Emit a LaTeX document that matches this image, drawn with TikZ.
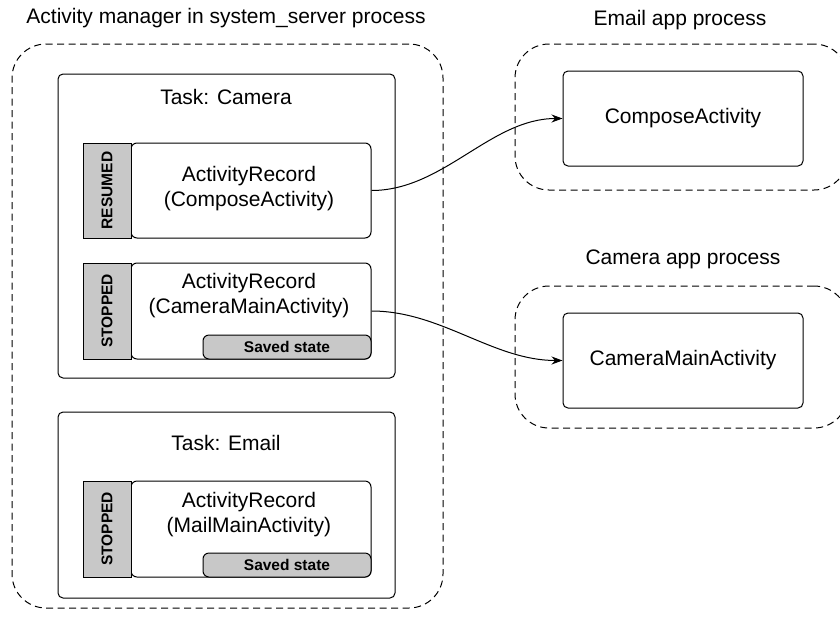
\documentclass[tikz,border=0pt]{standalone}
\usepackage{fontspec}
\setmainfont{Liberation Sans}
\usetikzlibrary{arrows.meta}
\definecolor{tabgray}{RGB}{200,200,200}
\tikzset{
  proc/.style={draw, dashed, dash pattern=on 7pt off 4.5pt, line width=1pt, rounded corners=34pt, inner sep=0pt},
  task/.style={draw, line width=1pt, rounded corners=5pt, inner sep=0pt},
  rec/.style={draw, line width=1pt, rounded corners=6pt, fill=white, inner sep=0pt},
  tab/.style={draw, line width=1pt, fill=tabgray, inner sep=0pt},
  saved/.style={draw, line width=1pt, rounded corners=6pt, fill=tabgray, inner sep=0pt, font=\fontsize{15.5}{17}\selectfont\bfseries},
  tabtxt/.style={rotate=90, font=\fontsize{15.5}{17}\selectfont\bfseries},
  lbl/.style={font=\fontsize{21}{25}\selectfont, align=center, inner sep=0pt},
  conn/.style={line width=1pt, -{Stealth[length=11pt,width=8pt]}},
}
\begin{document}
\begin{tikzpicture}[x=1pt,y=-1pt]
\clip (0,0) rectangle (840,619);
% titles
\node[lbl] (t1) at (226,18) {Activity manager in system\_server process};
\node[lbl] (t2) at (680,20) {Email app process};
\node[lbl] (t3) at (683,259) {Camera app process};
% process boxes
\node[proc, minimum width=431pt, minimum height=564pt] (sys) at (227.5,326) {};
\node[proc, minimum width=333pt, minimum height=146pt] (emailp) at (681.5,117) {};
\node[proc, minimum width=333pt, minimum height=142pt] (camp) at (681.5,357) {};
% app activities
\node[task, minimum width=240pt, minimum height=95pt] (compose) at (683,118.5) {};
\node[lbl] (composet) at (683,118.5) {ComposeActivity};
\node[task, minimum width=240pt, minimum height=95pt] (cammain) at (683,360.5) {};
\node[lbl] (cammaint) at (683,360.5) {CameraMainActivity};
% Task: Camera
\node[task, minimum width=337pt, minimum height=304pt] (taskcam) at (226.5,226) {};
\node[lbl] (taskcamt) at (226,97) {Task: Camera};
\node[rec, minimum width=240pt, minimum height=95pt] (ar1) at (251,190.5) {};
\node[tab, minimum width=48pt, minimum height=95pt] (tab1) at (107,190.5) {};
\node[tabtxt] at (tab1) {RESUMED};
\node[lbl] (ar1t) at (249,189) {ActivityRecord\\(ComposeActivity)};
\node[rec, minimum width=240pt, minimum height=96pt] (ar2) at (251,311) {};
\node[tab, minimum width=48pt, minimum height=96pt] (tab2) at (107,311) {};
\node[tabtxt] at (tab2) {STOPPED};
\node[lbl] (ar2t) at (249,296) {ActivityRecord\\(CameraMainActivity)};
\node[saved, minimum width=168pt, minimum height=24pt] (sv2) at (287,347) {Saved state};
% Task: Email
\node[task, minimum width=337pt, minimum height=186pt] (taskemail) at (226.5,505) {};
\node[lbl] (taskemailt) at (226,443) {Task: Email};
\node[rec, minimum width=240pt, minimum height=96pt] (ar3) at (251,529) {};
\node[tab, minimum width=48pt, minimum height=96pt] (tab3) at (107,529) {};
\node[tabtxt] at (tab3) {STOPPED};
\node[lbl] (ar3t) at (249,515) {ActivityRecord\\(MailMainActivity)};
\node[saved, minimum width=168pt, minimum height=24pt] (sv3) at (287,565) {Saved state};
% connectors
\draw[conn] (ar1.east) to[out=0,in=180,looseness=0.9] (compose.west);
\draw[conn] (ar2.east) to[out=0,in=180,looseness=0.9] (cammain.west);
\end{tikzpicture}
\end{document}
